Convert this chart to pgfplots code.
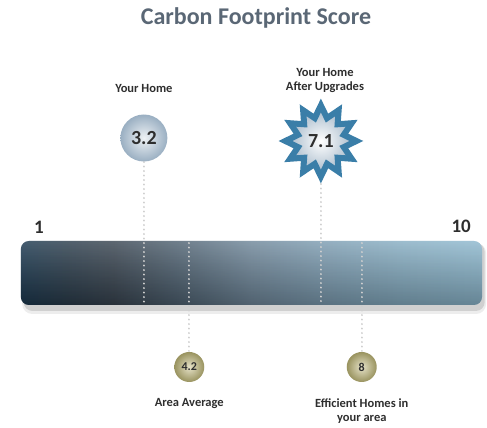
\documentclass[border=0pt]{standalone}
\usepackage{pgfplots}
\pgfplotsset{compat=1.18}
\usepackage{fontspec}
\setmainfont{Carlito}
\usetikzlibrary{shapes.geometric,fadings}

\definecolor{titlegray}{HTML}{5A6775}
\definecolor{labeldark}{HTML}{2E2E2E}
\definecolor{dotgray}{HTML}{CFCFCF}
\definecolor{starblue}{HTML}{3A7EA8}
\definecolor{homein}{HTML}{EEF2F5}
\definecolor{homeout}{HTML}{9AAFC2}
\definecolor{starin}{HTML}{FFFFFF}
\definecolor{starout}{HTML}{A0B4C6}
\definecolor{areain}{HTML}{E6E2C8}
\definecolor{areaout}{HTML}{99935F}
\definecolor{b0}{HTML}{1D3A51}
\definecolor{b1}{HTML}{2C3E4D}
\definecolor{b2}{HTML}{3A4652}
\definecolor{b3}{HTML}{506373}
\definecolor{b4}{HTML}{70889B}
\definecolor{b5}{HTML}{7E9EB3}
\definecolor{b6}{HTML}{87AEC3}
\definecolor{b7}{HTML}{8EB9CF}

% left-to-right colour ramp of the score bar (path box maps to 25bp..75bp)
\pgfdeclarehorizontalshading{scorebar}{100bp}{%
  color(0bp)=(b0); color(25bp)=(b0); color(30bp)=(b1); color(35bp)=(b2);
  color(42bp)=(b3); color(50bp)=(b4); color(58bp)=(b5); color(66bp)=(b6);
  color(75bp)=(b7); color(100bp)=(b7)}

\tikzset{
  lbl/.style={font=\bfseries\fontsize{12.5}{14}\selectfont, text=labeldark, align=center},
  dotline/.style={dotgray, line width=2pt, line cap=round, dash pattern=on 0.1pt off 4.4pt},
}

\begin{document}
\begin{tikzpicture}
\begin{axis}[
  width=487pt, height=424pt, scale only axis,
  xmin=0.03, xmax=10.76, ymin=0, ymax=424,
  hide axis, clip=false,
  /pgf/number format/assume math mode=true,
]
\path (rel axis cs:0,0) rectangle (rel axis cs:1,1);

% soft shadow under the bar
\addplot[draw=none, fill=black, fill opacity=0.07, rounded corners=10pt]
  coordinates {(0.52,110) (10.74,110) (10.74,181) (0.52,181)} -- cycle;
\addplot[draw=none, fill=black, fill opacity=0.12, rounded corners=9pt]
  coordinates {(0.55,113) (10.71,113) (10.71,181) (0.55,181)} -- cycle;

% the 1-10 score bar
\addplot[draw=none, shade, shading=scorebar, rounded corners=8pt]
  coordinates {(0.49,119) (10.65,119) (10.65,183) (0.49,183)} -- cycle;
\addplot[draw=none, fill=white, fill opacity=0.18, path fading=south, rounded corners=8pt]
  coordinates {(0.49,119) (10.65,119) (10.65,183) (0.49,183)} -- cycle;
\addplot[draw=none, fill=black, fill opacity=0.28, path fading=north, rounded corners=8pt]
  coordinates {(0.49,119) (10.65,119) (10.65,183) (0.49,183)} -- cycle;

% guide lines from each marker to the bar
\addplot[dotline] coordinates {(3.2,262) (3.2,121)};
\addplot[dotline] coordinates {(7.1,240) (7.1,121)};
\addplot[dotline] coordinates {(4.2,181) (4.2,73)};
\addplot[dotline] coordinates {(8,181) (8,73)};

% your home
\addplot[draw=none, mark=none, point meta=x, nodes near coords,
  every node near coord/.append style={anchor=center, circle, minimum size=47pt,
    inner sep=0pt, inner color=homein, outer color=homeout,
    font=\bfseries\fontsize{20}{20}\selectfont, text=labeldark}]
  coordinates {(3.2,286)};

% your home after upgrades
\addplot[draw=none, mark=none, point meta=x, nodes near coords,
  every node near coord/.append style={anchor=center, star, star points=12,
    star point ratio=1.5, minimum size=71pt, inner sep=0pt,
    draw=starblue, line width=6pt, line join=miter,
    inner color=starin, outer color=starout,
    font=\bfseries\fontsize{20}{20}\selectfont, text=labeldark}]
  coordinates {(7.1,283)};

% area average and efficient homes
\addplot[draw=none, mark=none, point meta=x, nodes near coords,
  every node near coord/.append style={anchor=center, circle, minimum size=30pt,
    inner sep=0pt, inner color=areain, outer color=areaout,
    font=\bfseries\fontsize{12}{12}\selectfont, text=labeldark}]
  coordinates {(4.2,57) (8,57)};

% text
\node[font=\bfseries\fontsize{24}{26}\selectfont, text=titlegray] at (axis cs:5.67,406) {Carbon Footprint Score};
\node[lbl] at (axis cs:3.2,335) {Your Home};
\node[lbl] at (axis cs:7.19,343.5) {Your Home\\After Upgrades};
\node[lbl] at (axis cs:4.2,20) {Area Average};
\node[lbl] at (axis cs:8,12.5) {Efficient Homes in\\your area};
\node[font=\bfseries\fontsize{19}{19}\selectfont, text=labeldark] at (axis cs:0.89,197) {1};
\node[font=\bfseries\fontsize{19}{19}\selectfont, text=labeldark] at (axis cs:10.19,198) {10};
\end{axis}
\end{tikzpicture}
\end{document}
